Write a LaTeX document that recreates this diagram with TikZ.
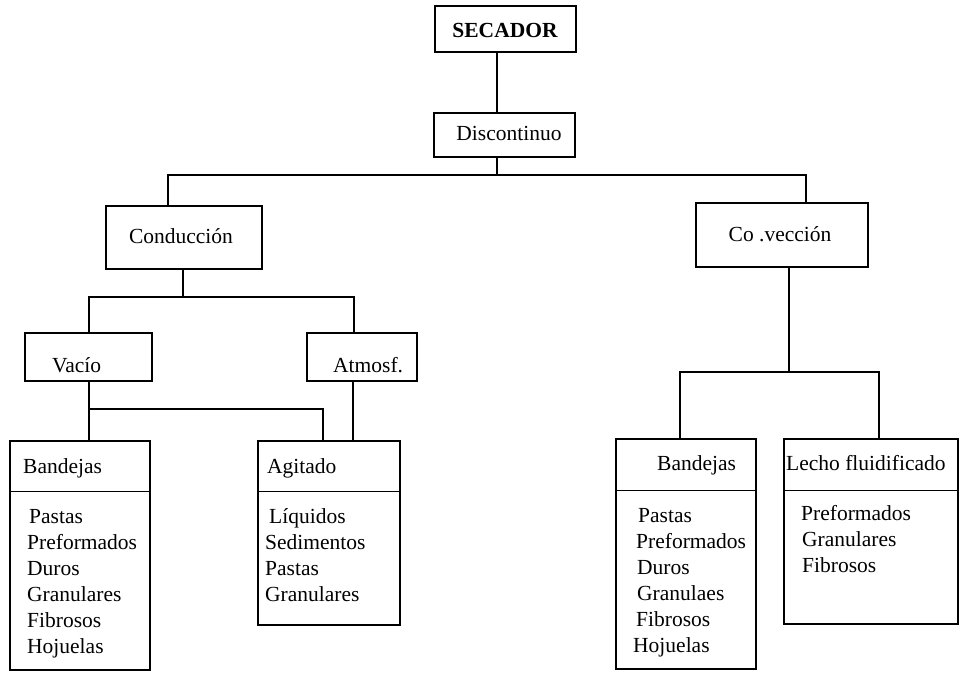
\documentclass[tikz,border=0pt]{standalone}
\usepackage{fontspec}
\setmainfont{Liberation Serif}
\usetikzlibrary{fit}
\begin{document}
\begin{tikzpicture}[x=1pt,y=-1pt,
  box/.style={draw, line width=1.3pt, inner sep=0pt},
  wire/.style={line width=1.1pt},
  divider/.style={line width=1.2pt},
  lbl/.style={inner sep=0pt, anchor=base west, font=\fontsize{21.5}{26}\selectfont},
  clbl/.style={lbl, anchor=base},
]
\useasboundingbox (0,0) rectangle (961,672);

% ---- boxes ----
\node[box, fit={(435,6) (576,52)}] (sec) {};
\node[box, fit={(434,113) (575,157)}] (dis) {};
\node[box, fit={(106,206) (262,269)}] (con) {};
\node[box, fit={(696,203) (868,267)}] (conv) {};
\node[box, fit={(25,333) (152,381)}] (vac) {};
\node[box, fit={(307,333) (417,381)}] (atm) {};
\node[box, fit={(10,441) (150,670)}] (bl) {};
\node[box, fit={(258,441) (400,625)}] (ag) {};
\node[box, fit={(616,439) (756,669)}] (br) {};
\node[box, fit={(784,439) (958,624)}] (le) {};

% ---- title separators inside the lower boxes ----
\path (bl.north west) ++(0,51) coordinate (blm);
\path (ag.north west) ++(0,51) coordinate (agm);
\path (br.north west) ++(0,52) coordinate (brm);
\path (le.north west) ++(0,52) coordinate (lem);
\draw[divider] (blm) -- (blm -| bl.east);
\draw[divider] (agm) -- (agm -| ag.east);
\draw[divider] (brm) -- (brm -| br.east);
\draw[divider] (lem) -- (lem -| le.east);

% ---- labels ----
\node[clbl, font=\bfseries\fontsize{21.5}{26}\selectfont] (tsec) at (505,37) {SECADOR};
\node[clbl] (tdis) at (509,140) {Discontinuo};
\node[clbl] (tcon) at (181,243) {Conducción};
\node[clbl] (tconv) at (780,241) {Co .vección};
\node[lbl] (tvac) at (52,372) {Vacío};
\node[lbl] (tatm) at (333,372) {Atmosf.};
\node[lbl] (tbl) at (23,473) {Bandejas};
\node[lbl] (tag) at (267,473) {Agitado};
\node[lbl] (tbr) at (657,470) {Bandejas};
\node[lbl] (tle) at (786,470) {Lecho fluidificado};

% ---- item lists ----
\foreach \t/\x [count=\i] in {Pastas/29, Preformados/27, Duros/27, Granulares/27, Fibrosos/27, Hojuelas/27}
  \node[lbl] (bl\i) at (\x, {523+26*(\i-1)}) {\t};
\foreach \t/\x [count=\i] in {Líquidos/269, Sedimentos/265, Pastas/265, Granulares/265}
  \node[lbl] (ag\i) at (\x, {523+26*(\i-1)}) {\t};
\foreach \t/\x [count=\i] in {Pastas/638, Preformados/636, Duros/637, Granulaes/637, Fibrosos/636, Hojuelas/633}
  \node[lbl] (br\i) at (\x, {522+26*(\i-1)}) {\t};
\foreach \t/\x [count=\i] in {Preformados/801, Granulares/802, Fibrosos/802}
  \node[lbl] (le\i) at (\x, {520+26*(\i-1)}) {\t};

% ---- connectors ----
\coordinate (j0) at (497,175);
\coordinate (jl) at (168,175);
\coordinate (jr) at (806,175);
\draw[wire] (sec.south -| j0) -- (dis.north -| j0);
\draw[wire] (dis.south -| j0) -- (j0);
\draw[wire] (con.north -| jl) |- (jr) -- (conv.north -| jr);

\coordinate (c0) at (183,297);
\coordinate (cl) at (89,297);
\coordinate (cr) at (354,297);
\draw[wire] (con.south -| c0) -- (c0);
\draw[wire] (vac.north -| cl) |- (cr) -- (atm.north -| cr);

\coordinate (v0) at (89,409);
\coordinate (vr) at (323,409);
\draw[wire] (vac.south -| v0) -- (bl.north -| v0);
\draw[wire] (v0) -- (vr) -- (ag.north -| vr);

\coordinate (a0) at (353,381);
\draw[wire] (atm.south -| a0) -- (ag.north -| a0);

\coordinate (k0) at (789,372);
\coordinate (kl) at (680,372);
\coordinate (kr) at (879,372);
\draw[wire] (conv.south -| k0) -- (k0);
\draw[wire] (br.north -| kl) |- (kr) -- (le.north -| kr);
\end{tikzpicture}
\end{document}
